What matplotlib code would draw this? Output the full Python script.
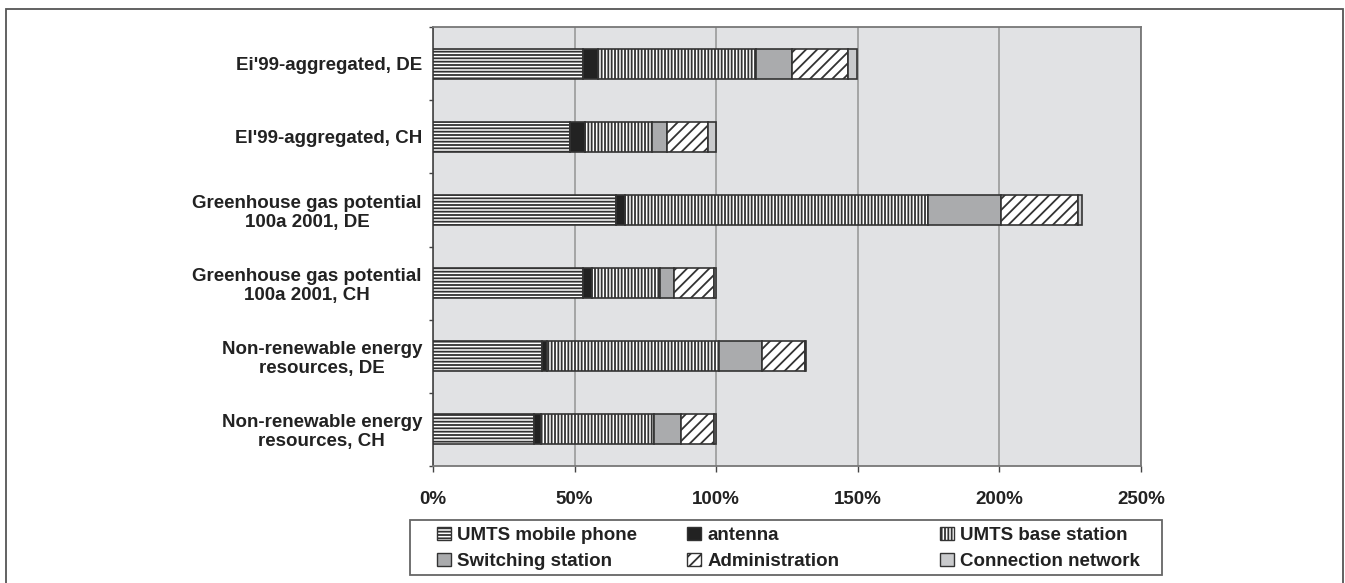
import matplotlib
matplotlib.use("Agg")
import matplotlib.pyplot as plt
from matplotlib.patches import Patch, Rectangle
from matplotlib.ticker import FixedLocator, FuncFormatter
import numpy as np

plt.rcParams['font.family'] = ['Liberation Sans', 'DejaVu Sans']
plt.rcParams['hatch.linewidth'] = 1.3
plt.rcParams['hatch.color'] = '#2a2a2a'

categories = [
    "Ei'99-aggregated, DE",
    "EI'99-aggregated, CH",
    "Greenhouse gas potential\n100a 2001, DE",
    "Greenhouse gas potential\n100a 2001, CH",
    "Non-renewable energy\nresources, DE",
    "Non-renewable energy\nresources, CH",
]
series_names = ["UMTS mobile phone", "antenna", "UMTS base station",
                "Switching station", "Administration", "Connection network"]
umts_mobile_phone = [52.9, 48.5, 64.7, 53.0, 38.4, 35.6]
antenna = [5.2, 5.0, 3.0, 3.3, 1.7, 2.4]
umts_base_station = [55.8, 23.9, 107.1, 23.7, 60.9, 40.1]
switching_station = [12.8, 5.4, 25.8, 5.2, 15.3, 9.6]
administration = [19.8, 14.4, 27.3, 13.9, 14.9, 11.6]
connection_network = [3.2, 2.8, 1.1, 0.9, 0.6, 0.7]
x_ticks = [0, 50, 100, 150, 200, 250]

series = [umts_mobile_phone, antenna, umts_base_station,
          switching_station, administration, connection_network]
styles = [
    dict(facecolor='white', hatch='-----'),
    dict(facecolor='#222222', hatch=None),
    dict(facecolor='white', hatch='|||||'),
    dict(facecolor='#aaabad', hatch=None),
    dict(facecolor='white', hatch='///'),
    dict(facecolor='#c9cacc', hatch=None),
]

fig = plt.figure(figsize=(13.45, 5.83), dpi=100)
fig.patch.set_facecolor('white')
# outer frame
fig.patches.append(Rectangle((6/1345, -0.05), (1342.5-6)/1345, 1-9/583+0.05,
                             transform=fig.transFigure, fill=False,
                             edgecolor='#555555', linewidth=1.3))

ax = fig.add_axes([433/1345, 1-466/583, (1141-433)/1345, (466-27)/583])
ax.set_facecolor('#e1e2e4')

y = np.arange(len(categories))
left = np.zeros(len(categories))
for vals, st in zip(series, styles):
    ax.barh(y, vals, left=left, height=0.41, facecolor=st['facecolor'],
            hatch=st['hatch'], edgecolor='#333333', linewidth=1.2, zorder=3)
    left = left + np.array(vals)

ax.set_xlim(0, 250)
ax.set_ylim(len(categories)-0.5, -0.5)
ax.set_xticks(x_ticks)
ax.xaxis.set_major_formatter(FuncFormatter(lambda v, p: f"{int(v)}%"))
ax.set_yticks(y)
ax.set_yticklabels(categories)
ax.yaxis.set_minor_locator(FixedLocator(np.arange(-0.5, len(categories), 1.0)))
for lbl in ax.get_yticklabels():
    lbl.set_multialignment('center')
    lbl.set_fontweight('bold')
    lbl.set_fontsize(13.5)
    lbl.set_color('#222222')
    lbl.set_linespacing(1.15)
for lbl in ax.get_xticklabels():
    lbl.set_fontweight('bold')
    lbl.set_fontsize(13.5)
    lbl.set_color('#222222')

ax.tick_params(axis='y', which='major', length=0, pad=8)
ax.tick_params(axis='y', which='minor', length=3, width=1, color='#444444', direction='out')
ax.tick_params(axis='x', which='major', length=4.3, width=1, color='#444444', direction='out', pad=14)

ax.xaxis.grid(True, color='#9a9a9a', linewidth=1.2, zorder=1)
ax.set_axisbelow(True)
for side in ['top', 'right', 'bottom']:
    ax.spines[side].set_color('#777777')
    ax.spines[side].set_linewidth(1.3)
ax.spines['left'].set_color('#444444')
ax.spines['left'].set_linewidth(1.2)

# legend frame
fig.patches.append(Rectangle((410/1345, 1-575/583), (1162-410)/1345, 55/583,
                             transform=fig.transFigure, facecolor='white',
                             edgecolor='#666666', linewidth=1.3, zorder=5))

handles = [Patch(facecolor=st['facecolor'], hatch=st['hatch'], edgecolor='#333333',
                 linewidth=1.0) for st in styles]
col_x = [437, 687, 940]
cols = [(0, 3), (1, 4), (2, 5)]
for cx, (a, b) in zip(col_x, cols):
    leg = fig.legend([handles[a], handles[b]], [series_names[a], series_names[b]],
                     loc='upper left', bbox_to_anchor=(cx/1345, 1-527/583),
                     frameon=False, ncol=1, handlelength=0.72, handleheight=0.72,
                     handletextpad=0.35, labelspacing=0.45, borderpad=0.0,
                     borderaxespad=0.0,
                     prop={'weight': 'bold', 'size': 13.5})
    for t in leg.get_texts():
        t.set_color('#222222')
    leg.set_zorder(6)

fig.savefig('out.png', dpi=100, facecolor='white')
